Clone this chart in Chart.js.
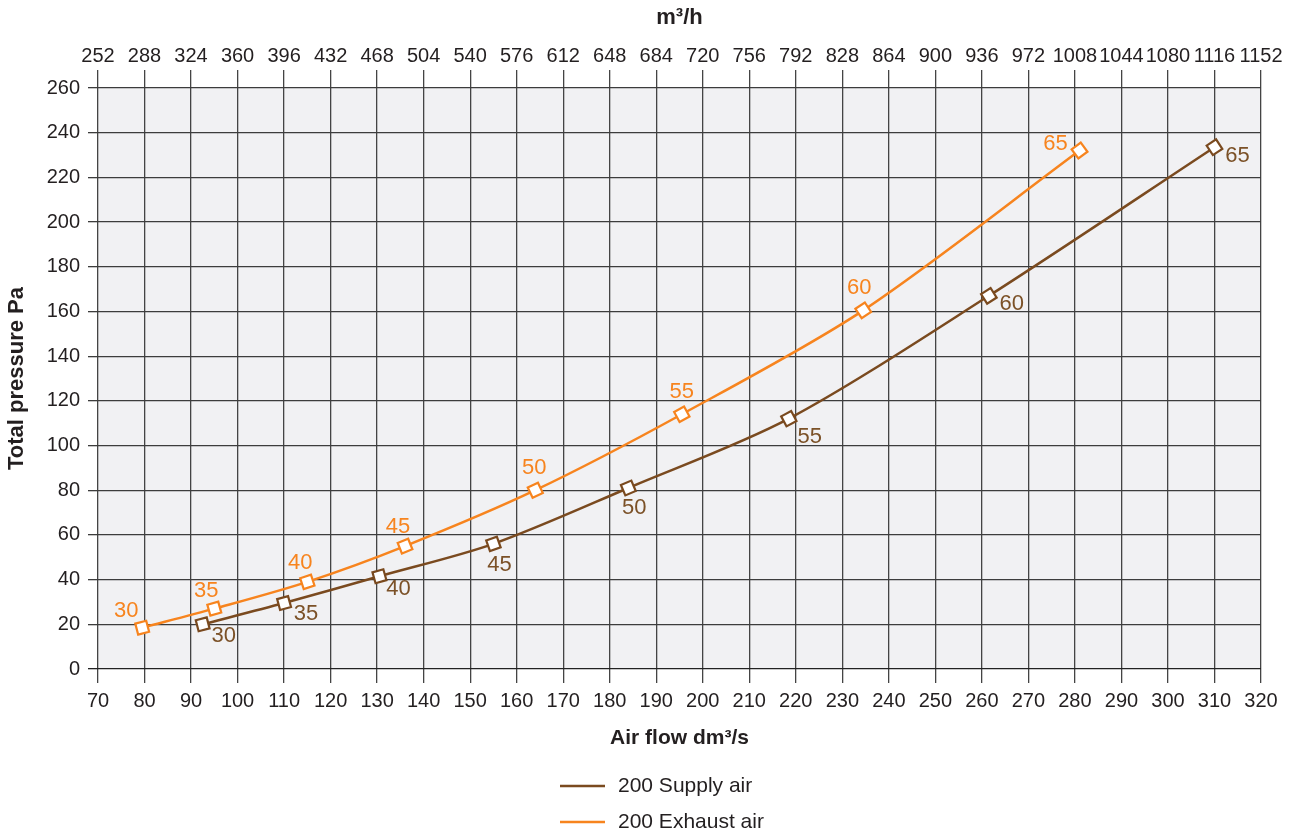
<!DOCTYPE html>
<html><head><meta charset="utf-8">
<script src="https://cdn.jsdelivr.net/npm/chart.js@4/dist/chart.umd.min.js"></script>
<style>html,body{margin:0;padding:0;background:#fff}#wrap{width:1292px;height:830px}</style>
</head><body><div id="wrap"><canvas id="c" width="1292" height="830"></canvas></div>
<script>
// ---- data ----
const fanSpeeds = [30, 35, 40, 45, 50, 55, 60, 65];
const supplyFlow = [92.5, 110, 130.5, 155, 184, 218.5, 261.5, 310];
const supplyPressure = [20, 29.5, 41.5, 56, 81, 112, 167, 233.5];
const exhaustFlow = [79.5, 95, 115, 136, 164, 195.5, 234.5, 281];
const exhaustPressure = [18.5, 27, 39, 55, 80, 114, 160.5, 232];
const seriesNames = ['200 Supply air', '200 Exhaust air'];
const flowRange = [70, 320, 10];          // dm3/s  min, max, step
const flowM3hRange = [252, 1152, 36];     // m3/h   min, max, step
const pressureRange = [0, 260, 20];       // Pa     min, max, step

// ---- label placement (style only) ----
const supplyLabelOffsets = [[21,12],[22,11],[19,13],[6,21],[6,20],[21,18],[23,8],[23,9]];
const exhaustLabelOffsets = [[-16,-17],[-8,-18],[-7,-19],[-7,-19],[-1,-22],[0,-22],[-4,-22],[-24,-7]];

const BROWN = '#7a4a1f', BROWN_TXT = '#7b5127', ORANGE = '#f7841e';
const FONT = "'Liberation Sans', Arial, sans-serif";

const pts = (xs, ys) => xs.map((x, i) => ({x, y: ys[i]}));

function rot(ctx) {
  const ch = ctx.chart, d = ch.data.datasets[ctx.datasetIndex].data, i = ctx.dataIndex;
  if (!ch.scales || !ch.scales.x || !d[i]) return 0;
  const a = d[Math.max(0, i - 1)], b = d[Math.min(d.length - 1, i + 1)];
  const dx = ch.scales.x.getPixelForValue(b.x) - ch.scales.x.getPixelForValue(a.x);
  const dy = ch.scales.y.getPixelForValue(b.y) - ch.scales.y.getPixelForValue(a.y);
  return Math.atan2(dy, dx) * 180 / Math.PI;
}

const bgPlugin = {
  id: 'bg',
  beforeDraw(chart) {
    const {ctx, chartArea: a} = chart;
    ctx.save(); ctx.fillStyle = '#f1f1f3';
    ctx.fillRect(a.left, a.top, a.right - a.left, a.bottom - a.top);
    ctx.restore();
  }
};

const labelPlugin = {
  id: 'ptlabels',
  afterDatasetsDraw(chart) {
    const ctx = chart.ctx;
    ctx.save();
    ctx.font = "22px " + FONT;
    ctx.textAlign = 'center'; ctx.textBaseline = 'middle';
    chart.data.datasets.forEach((ds, di) => {
      const meta = chart.getDatasetMeta(di);
      ctx.fillStyle = ds.labelColor;
      meta.data.forEach((el, i) => {
        const o = ds.labelOffsets[i];
        ctx.fillText(String(fanSpeeds[i]), el.x + o[0], el.y + o[1]);
      });
    });
    ctx.restore();
  }
};

const legendPlugin = {
  id: 'mylegend',
  afterDraw(chart) {
    const ctx = chart.ctx, a = chart.chartArea;
    ctx.save();
    ctx.font = "21px " + FONT; ctx.textBaseline = 'middle'; ctx.textAlign = 'left';
    chart.data.datasets.forEach((ds, i) => {
      const y = a.bottom + 117 + i * 36;
      ctx.strokeStyle = ds.borderColor; ctx.lineWidth = 2.5;
      ctx.beginPath(); ctx.moveTo(560, y); ctx.lineTo(605, y); ctx.stroke();
      ctx.fillStyle = '#231f20';
      ctx.fillText(ds.label, 618, y);
    });
    ctx.restore();
  }
};

const tickFont = {family: FONT, size: 20};
const GRID = '#444444';

new Chart(document.getElementById('c'), {
  type: 'line',
  data: {
    datasets: [
      {label: seriesNames[0], data: pts(supplyFlow, supplyPressure), borderColor: BROWN, backgroundColor: '#fff',
       borderWidth: 2.5, tension: 0.3, pointStyle: 'rect', pointRadius: 8, pointBorderWidth: 2.2,
       pointBorderColor: BROWN, pointBackgroundColor: '#fff', pointRotation: rot,
       labelColor: BROWN_TXT, labelOffsets: supplyLabelOffsets},
      {label: seriesNames[1], data: pts(exhaustFlow, exhaustPressure), borderColor: ORANGE, backgroundColor: '#fff',
       borderWidth: 2.5, tension: 0.3, pointStyle: 'rect', pointRadius: 8, pointBorderWidth: 2.2,
       pointBorderColor: ORANGE, pointBackgroundColor: '#fff', pointRotation: rot,
       labelColor: ORANGE, labelOffsets: exhaustLabelOffsets}
    ]
  },
  options: {
    responsive: false, animation: false, devicePixelRatio: 1,
    layout: {padding: {left: 0, right: 31, top: 0, bottom: 0}},
    plugins: {legend: {display: false}, tooltip: {enabled: false}},
    scales: {
      x: {
        type: 'linear', position: 'bottom', min: flowRange[0], max: flowRange[1],
        ticks: {stepSize: flowRange[2], autoSkip: false, maxRotation: 0, font: tickFont, color: '#231f20', padding: 6},
        grid: {color: GRID, lineWidth: 1.3, tickLength: 14},
        border: {display: false},
        title: {display: true, text: 'Air flow dm³/s', font: {family: FONT, size: 21, weight: 'bold'}, color: '#231f20', padding: {bottom: 79}},
        afterFit: s => { s.height = 161; }
      },
      x2: {
        type: 'linear', position: 'top', min: flowM3hRange[0], max: flowM3hRange[1],
        ticks: {stepSize: flowM3hRange[2], autoSkip: false, maxRotation: 0, font: tickFont, color: '#231f20', padding: 2,
                callback: v => String(Math.round(v))},
        grid: {drawOnChartArea: false, color: GRID, lineWidth: 1.3, tickLength: 18},
        border: {display: false},
        title: {display: true, text: 'm³/h', font: {family: FONT, size: 22, weight: 'bold'}, color: '#231f20', padding: {top: 5}},
        afterFit: s => { s.height = 88; }
      },
      y: {
        type: 'linear', position: 'left', min: pressureRange[0], max: pressureRange[1],
        ticks: {stepSize: pressureRange[2], font: tickFont, color: '#231f20', padding: 8},
        grid: {color: c => (c.tick && c.tick.value === 0) ? '#222' : '#3c3c3c', lineWidth: 1.3, tickLength: 10},
        border: {display: false},
        title: {display: true, text: 'Total pressure Pa', font: {family: FONT, size: 22, weight: 'bold'}, color: '#231f20', padding: {top: 4}},
        afterFit: s => { s.width = 98; }
      }
    }
  },
  plugins: [bgPlugin, labelPlugin, legendPlugin]
});
</script>
</body></html>
